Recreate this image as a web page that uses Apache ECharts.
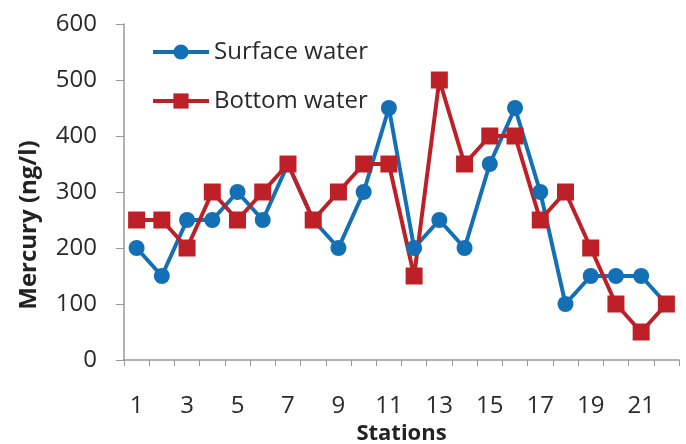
<!DOCTYPE html>
<html><head><meta charset="utf-8">
<script src="https://cdn.jsdelivr.net/npm/echarts@6/dist/echarts.min.js"></script>
<style>html,body{margin:0;padding:0;background:#fff}#c{width:686px;height:444px}</style>
</head><body><div id="c"></div>
<script>
const stations = ['1','2','3','4','5','6','7','8','9','10','11','12','13','14','15','16','17','18','19','20','21','22'];
const surfaceWater = [200,150,250,250,300,250,350,250,200,300,450,200,250,200,350,450,300,100,150,150,150,100];
const bottomWater = [250,250,200,300,250,300,350,250,300,350,350,150,500,350,400,400,250,300,200,100,50,100];
const yTicks = [0,100,200,300,400,500,600];

const font = 'Open Sans, Lato, sans-serif';
const chart = echarts.init(document.getElementById('c'));
chart.setOption({
  animation: false,
  grid: {left: 124, right: 7, top: 24, bottom: 84, outerBoundsMode: 'none', containLabel: false},
  legend: {
    orient: 'vertical', left: 146, top: 35, itemGap: 25,
    itemWidth: 56, itemHeight: 19,
    lineStyle: {width: 4},
    textStyle: {fontFamily: font, fontSize: 24, color: '#2a2a2a'},
    data: ['Surface water', 'Bottom water']
  },
  xAxis: {
    type: 'category', data: stations, boundaryGap: true,
    name: 'Stations', nameLocation: 'middle', nameGap: 63,
    nameTextStyle: {fontFamily: font, fontSize: 22, fontWeight: 'bold', color: '#222'},
    axisLine: {lineStyle: {color: '#999', width: 1.5}},
    axisTick: {show: true, length: 6, lineStyle: {color: '#999'}, interval: 0},
    axisLabel: {interval: 1, margin: 34, fontFamily: font, fontSize: 24, color: '#2a2a2a'},
    splitLine: {show: false}
  },
  yAxis: {
    type: 'value', min: yTicks[0], max: yTicks[yTicks.length-1], interval: 100,
    name: 'Mercury (ng/l)', nameLocation: 'middle', nameGap: 83,
    nameTextStyle: {fontFamily: font, fontSize: 24, fontWeight: 'bold', color: '#222', padding: [0, 66, 0, 0]},
    axisLine: {show: true, lineStyle: {color: '#999', width: 1.5}},
    axisTick: {show: true, length: 8, lineStyle: {color: '#999'}},
    axisLabel: {margin: 27, fontFamily: font, fontSize: 24, color: '#2a2a2a'},
    splitLine: {show: false}
  },
  series: [
    {name: 'Surface water', type: 'line', data: surfaceWater,
     symbol: 'circle', symbolSize: 16, showAllSymbol: true,
     lineStyle: {color: '#1470b5', width: 4},
     itemStyle: {color: '#1470b5'}},
    {name: 'Bottom water', type: 'line', data: bottomWater,
     symbol: 'rect', symbolSize: 17, showAllSymbol: true,
     lineStyle: {color: '#be2027', width: 4},
     itemStyle: {color: '#be2027'}}
  ]
});
</script></body></html>
